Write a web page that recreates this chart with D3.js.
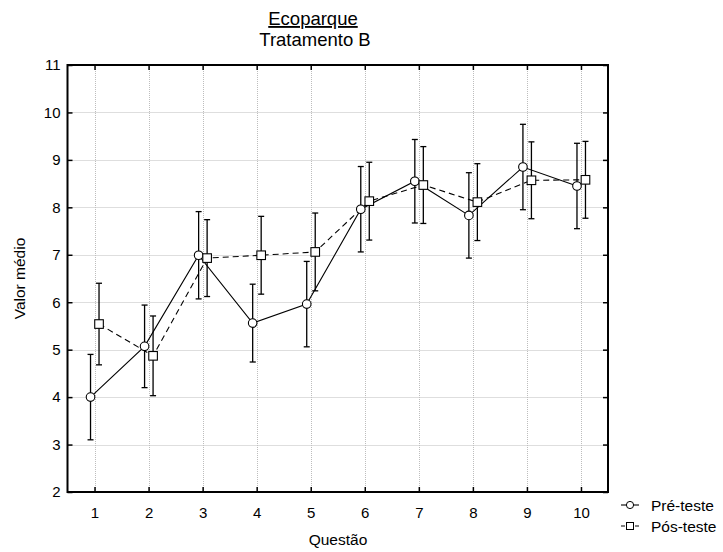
<!DOCTYPE html>
<html><head><meta charset="utf-8">
<script src="https://cdn.jsdelivr.net/npm/d3@7"></script>
<style>
body{margin:0;background:#fff;}
svg{display:block;font-family:"Liberation Sans",Arial,sans-serif;}
</style></head>
<body>
<svg id="chart" width="723" height="552"></svg>
<script>
const questions = [1,2,3,4,5,6,7,8,9,10];
const preMean = [4.00,5.07,6.99,5.56,5.96,7.96,8.55,7.83,8.85,8.45];
const preErr  = [0.90,0.87,0.92,0.82,0.90,0.90,0.88,0.90,0.90,0.90];
const posMean = [5.54,4.87,6.93,6.99,7.06,8.13,8.47,8.11,8.57,8.58];
const posErr  = [0.86,0.84,0.81,0.82,0.82,0.82,0.81,0.81,0.81,0.81];
const yTicks = [2,3,4,5,6,7,8,9,10,11];
const seriesNames = ["Pré-teste","Pós-teste"];
const titleText = "Ecoparque";
const subtitleText = "Tratamento B";
const xLabel = "Questão";
const yLabel = "Valor médio";

const svg = d3.select("#chart");
const L = 67.5, R = 608, T = 65, B = 492;
const x = d3.scaleLinear().domain([0.5,10.5]).range([L,R]);
const y = d3.scaleLinear().domain([2,11]).range([B,T]);

// grid
const grid = svg.append("g").attr("stroke","#bdbdbd").attr("stroke-width",1).attr("stroke-dasharray","1,1");
questions.forEach(q=>grid.append("line").attr("x1",Math.round(x(q))+0.5).attr("x2",Math.round(x(q))+0.5).attr("y1",T).attr("y2",B));
yTicks.forEach(t=>grid.append("line").attr("y1",Math.round(y(t))+0.5).attr("y2",Math.round(y(t))+0.5).attr("x1",L).attr("x2",R));

// axes
const fontSize = "15px";
const gx = svg.append("g").attr("transform",`translate(0,${B})`)
  .call(d3.axisBottom(x).tickValues(questions).tickSize(-5).tickSizeOuter(0).tickPadding(15.5).tickFormat(d3.format("d")));
const gy = svg.append("g").attr("transform",`translate(${L},0)`)
  .call(d3.axisLeft(y).tickValues(yTicks).tickSize(-5).tickSizeOuter(0).tickPadding(7).tickFormat(d3.format("d")));
const gt = svg.append("g").attr("transform",`translate(0,${T})`)
  .call(d3.axisTop(x).tickValues(questions).tickSize(-5).tickSizeOuter(0).tickFormat(""));
const gr = svg.append("g").attr("transform",`translate(${R},0)`)
  .call(d3.axisRight(y).tickValues(yTicks).tickSize(-5).tickSizeOuter(0).tickFormat(""));
[gx,gy,gt,gr].forEach(g=>{
  g.attr("font-family",null).attr("font-size",null);
  g.selectAll("text").attr("font-size",fontSize).attr("fill","#000");
  g.selectAll("line").attr("stroke","#000").attr("stroke-width",1.5);
  g.select(".domain").remove();
});

const preOff = -4, posOff = 4.5;
const series = [
  {mean:preMean, err:preErr, off:preOff, dash:null, shape:"circle"},
  {mean:posMean, err:posErr, off:posOff, dash:"6,4", shape:"square"}
];

// connecting lines
series.forEach(s=>{
  const line = d3.line().x((d,i)=>x(questions[i])+s.off).y(d=>y(d));
  svg.append("path").datum(s.mean).attr("d",line).attr("fill","none")
    .attr("stroke","#000").attr("stroke-width",1.1).attr("stroke-dasharray",s.dash);
});

// error bars
series.forEach(s=>{
  const g = svg.append("g").attr("stroke","#000").attr("stroke-width",1.3);
  s.mean.forEach((m,i)=>{
    const cx = x(questions[i])+s.off;
    const y1 = y(m+s.err[i]), y0 = y(m-s.err[i]);
    g.append("line").attr("x1",cx).attr("x2",cx).attr("y1",y1).attr("y2",y0);
    g.append("line").attr("x1",cx-3).attr("x2",cx+3).attr("y1",y1).attr("y2",y1);
    g.append("line").attr("x1",cx-3).attr("x2",cx+3).attr("y1",y0).attr("y2",y0);
  });
});

// markers
series.forEach(s=>{
  s.mean.forEach((m,i)=>{
    const cx = x(questions[i])+s.off, cy = y(m);
    if(s.shape==="circle"){
      svg.append("circle").attr("cx",cx).attr("cy",cy).attr("r",4.3)
        .attr("fill","#fff").attr("stroke","#000").attr("stroke-width",1.1);
    } else {
      svg.append("rect").attr("x",cx-4.3).attr("y",cy-4.3).attr("width",8.6).attr("height",8.6)
        .attr("fill","#fff").attr("stroke","#000").attr("stroke-width",1.1);
    }
  });
});

// frame
svg.append("rect").attr("x",L).attr("y",T).attr("width",R-L).attr("height",B-T)
  .attr("fill","none").attr("stroke","#000").attr("stroke-width",2);

// titles
svg.append("text").attr("x",313).attr("y",25).attr("text-anchor","middle")
  .attr("font-size","18.5px").attr("text-decoration","underline").text(titleText);
svg.append("text").attr("x",315).attr("y",46).attr("text-anchor","middle")
  .attr("font-size","18.5px").text(subtitleText);
svg.append("text").attr("x",338).attr("y",545).attr("text-anchor","middle")
  .attr("font-size","15.5px").text(xLabel);
svg.append("text").attr("transform",`translate(25,${(T+B)/2}) rotate(-90)`).attr("text-anchor","middle")
  .attr("font-size","15.5px").text(yLabel);

// legend
const leg = svg.append("g");
[0,1].forEach(k=>{
  const ly = 505 + k*21;
  leg.append("line").attr("x1",621).attr("x2",639).attr("y1",ly).attr("y2",ly)
    .attr("stroke","#000").attr("stroke-width",1.1).attr("stroke-dasharray",k?"4,10":null);
  if(k===0){
    leg.append("circle").attr("cx",630).attr("cy",ly).attr("r",3.6).attr("fill","#fff").attr("stroke","#000").attr("stroke-width",1);
  } else {
    leg.append("rect").attr("x",626.5).attr("y",ly-3.5).attr("width",7).attr("height",7).attr("fill","#fff").attr("stroke","#000").attr("stroke-width",1);
  }
  leg.append("text").attr("x",651).attr("y",ly+5.7).attr("font-size","15.5px").text(seriesNames[k]);
});
</script>
</body></html>
